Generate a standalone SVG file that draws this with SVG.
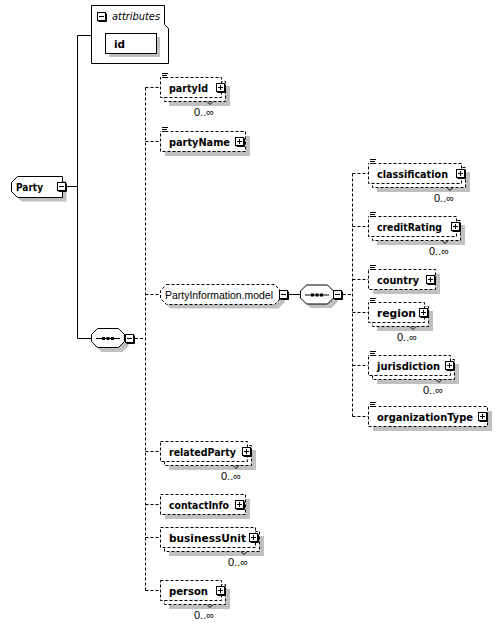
<svg xmlns="http://www.w3.org/2000/svg" width="498" height="626" viewBox="0 0 498 626">
<style>
.bg{fill:#fff}
.sh{fill:#c0c0c0}
.box{fill:#fff;stroke:#000;stroke-width:1;stroke-dasharray:3,2}
.sol{fill:#fff;stroke:#000;stroke-width:1}
.ln{fill:none;stroke:#000;stroke-width:1}
.dl{fill:none;stroke:#000;stroke-width:1;stroke-dasharray:3,2}
.lbl{font-family:"DejaVu Sans",sans-serif;font-weight:bold;font-size:10.5px;fill:#000}
.mul{font-family:"Liberation Sans",Arial,sans-serif;font-size:11px;fill:#000}
.grp{font-family:"Liberation Sans",Arial,sans-serif;font-size:10.5px;fill:#000}
.att{font-family:"DejaVu Sans",sans-serif;font-style:italic;font-size:10px;fill:#000}
</style>
<defs>
<g id="plus"><rect x="0.5" y="0.5" width="8" height="8" fill="#fff" stroke="#000"/><path d="M2,4.5H7M4.5,2V7M9.5,1.5V9.5H1.5" fill="none" stroke="#000"/></g>
<g id="minus"><rect x="0.5" y="0.5" width="8" height="8" fill="#fff" stroke="#000"/><path d="M2,4.5H7M9.5,1.5V9.5H1.5" fill="none" stroke="#000"/></g>
<g id="doc"><rect x="1" y="-5" width="8" height="6.5" fill="#fff"/><path d="M2,-4H8M2,-2H7M2,0H8" fill="none" stroke="#000"/></g>
<g id="seq"><path d="M6.5,0.5H27.5L33.5,6.5V13.5L27.5,19.5H6.5L0.5,13.5V6.5Z" class="sol"/><path d="M5,10.5H29" class="ln"/><rect x="11" y="9" width="3" height="3"/><rect x="15.5" y="9" width="3" height="3"/><rect x="20" y="9" width="3" height="3"/></g>
<path id="seqsh" d="M6.5,0.5H27.5L33.5,6.5V13.5L27.5,19.5H6.5L0.5,13.5V6.5Z"/>
</defs>

<g id="connectors">
<path class="ln" d="M77.5,35.5V338.5M77.5,35.5H91.5M67,186.5H77.5M77.5,338.5H91"/>
<path class="dl" d="M135,338.5H145.5M145.5,87.5V590.5M145.5,87.5H160.5M145.5,141.5H160.5M145.5,294.5H160.5M145.5,451.5H160.5M145.5,504.5H160.5M145.5,537.5H160.5M145.5,590.5H160.5"/>
<path class="ln" d="M288,294.5H300"/>
<path class="dl" d="M343,294.5H352.5M352.5,173.5V416.5M352.5,173.5H368.5M352.5,226.5H368.5M352.5,279.5H368.5M352.5,312.5H368.5M352.5,365.5H368.5M352.5,416.5H368.5"/>
</g>

<g id="attributes">
<path class="sol" d="M91.5,5.5H164.5V24.5L168.5,28.5V63.5H91.5Z"/>
<use href="#minus" x="97" y="12"/>
<text class="att" x="112" y="20" textLength="48" lengthAdjust="spacingAndGlyphs">attributes</text>
</g>
<g id="id">
<rect class="sh" x="109" y="37" width="51" height="20"/>
<rect class="sol" x="105.5" y="33.5" width="51" height="20"/>
<text class="lbl" x="114" y="47.5">id</text>
</g>

<g id="Party">
<path class="sh" transform="translate(4,4)" d="M17.5,176.5H62.5V197.5H17.5L11.5,191.5V182.5Z"/>
<path class="sol" d="M17.5,176.5H62.5V197.5H17.5L11.5,191.5V182.5Z"/>
<text class="lbl" x="16" y="190.5" textLength="27" lengthAdjust="spacingAndGlyphs">Party</text>
<use href="#minus" x="57" y="182"/>
</g>

<g id="sequence1">
<use href="#seqsh" x="95" y="332.5" class="sh"/>
<use href="#seq" x="91" y="328"/>
<use href="#minus" x="125" y="334"/>
</g>

<g id="partyId">
<rect class="sh" x="169" y="86" width="61" height="20"/>
<rect class="box" x="164.5" y="81.5" width="61" height="20"/>
<rect class="box" x="160.5" y="77.5" width="61" height="20"/>
<use href="#doc" x="160" y="77.5"/>
<text class="lbl" x="169" y="91.5" textLength="39" lengthAdjust="spacingAndGlyphs">partyId</text>
<use href="#plus" x="216" y="83"/>
<path class="ln" d="M207,101.5L210,104.5L213,101.5"/>
<text class="mul" x="194" y="116">0..∞</text>
</g>

<g id="partyName">
<rect class="sh" x="165" y="136" width="85" height="20"/>
<rect class="box" x="160.5" y="131.5" width="85" height="20"/>
<use href="#doc" x="160" y="131.5"/>
<text class="lbl" x="169" y="145.5" textLength="61" lengthAdjust="spacingAndGlyphs">partyName</text>
<use href="#plus" x="235" y="137"/>
</g>

<g id="PartyInformation.model">
<path class="sh" transform="translate(4,4)" d="M166.5,284.5H274.5L280.5,290.5V298.5L274.5,304.5H166.5L160.5,298.5V290.5Z"/>
<path class="box" d="M166.5,284.5H274.5L280.5,290.5V298.5L274.5,304.5H166.5L160.5,298.5V290.5Z"/>
<text class="grp" x="165" y="298.5" textLength="108" lengthAdjust="spacingAndGlyphs">PartyInformation.model</text>
<use href="#minus" x="279" y="290"/>
</g>

<g id="sequence2">
<use href="#seqsh" x="304" y="288.5" class="sh"/>
<use href="#seq" x="300" y="284.5"/>
<use href="#minus" x="333" y="290"/>
</g>

<g id="classification">
<rect class="sh" x="377" y="172" width="93" height="20"/>
<rect class="box" x="372.5" y="167.5" width="93" height="20"/>
<rect class="box" x="368.5" y="163.5" width="93" height="20"/>
<use href="#doc" x="368" y="163.5"/>
<text class="lbl" x="377" y="177.5" textLength="71" lengthAdjust="spacingAndGlyphs">classification</text>
<use href="#plus" x="456" y="169"/>
<path class="ln" d="M447,187.5L450,190.5L453,187.5"/>
<text class="mul" x="434" y="202">0..∞</text>
</g>

<g id="creditRating">
<rect class="sh" x="377" y="225" width="88" height="20"/>
<rect class="box" x="372.5" y="220.5" width="88" height="20"/>
<rect class="box" x="368.5" y="216.5" width="88" height="20"/>
<use href="#doc" x="368" y="216.5"/>
<text class="lbl" x="377" y="230.5" textLength="65" lengthAdjust="spacingAndGlyphs">creditRating</text>
<use href="#plus" x="451" y="222"/>
<path class="ln" d="M442,240.5L445,243.5L448,240.5"/>
<text class="mul" x="429" y="255">0..∞</text>
</g>

<g id="country">
<rect class="sh" x="373" y="274" width="67" height="20"/>
<rect class="box" x="368.5" y="269.5" width="67" height="20"/>
<use href="#doc" x="368" y="269.5"/>
<text class="lbl" x="377" y="283.5" textLength="42" lengthAdjust="spacingAndGlyphs">country</text>
<use href="#plus" x="426" y="275"/>
</g>

<g id="region">
<rect class="sh" x="377" y="311" width="56" height="20"/>
<rect class="box" x="372.5" y="306.5" width="56" height="20"/>
<rect class="box" x="368.5" y="302.5" width="56" height="20"/>
<use href="#doc" x="368" y="302.5"/>
<text class="lbl" x="377" y="316.5" textLength="39" lengthAdjust="spacingAndGlyphs">region</text>
<use href="#plus" x="419" y="308"/>
<path class="ln" d="M410,326.5L413,329.5L416,326.5"/>
<text class="mul" x="397" y="341">0..∞</text>
</g>

<g id="jurisdiction">
<rect class="sh" x="377" y="364" width="82" height="20"/>
<rect class="box" x="372.5" y="359.5" width="82" height="20"/>
<rect class="box" x="368.5" y="355.5" width="82" height="20"/>
<use href="#doc" x="368" y="355.5"/>
<text class="lbl" x="377" y="369.5" textLength="63" lengthAdjust="spacingAndGlyphs">jurisdiction</text>
<use href="#plus" x="445" y="361"/>
<path class="ln" d="M436,379.5L439,382.5L442,379.5"/>
<text class="mul" x="423" y="394">0..∞</text>
</g>

<g id="organizationType">
<rect class="sh" x="373" y="411" width="119" height="20"/>
<rect class="box" x="368.5" y="406.5" width="119" height="20"/>
<use href="#doc" x="368" y="406.5"/>
<text class="lbl" x="377" y="420.5" textLength="96" lengthAdjust="spacingAndGlyphs">organizationType</text>
<use href="#plus" x="478" y="412"/>
</g>

<g id="relatedParty">
<rect class="sh" x="169" y="450" width="87" height="20"/>
<rect class="box" x="164.5" y="445.5" width="87" height="20"/>
<rect class="box" x="160.5" y="441.5" width="87" height="20"/>
<text class="lbl" x="169" y="455.5" textLength="67" lengthAdjust="spacingAndGlyphs">relatedParty</text>
<use href="#plus" x="242" y="447"/>
<path class="ln" d="M233,465.5L236,468.5L239,465.5"/>
<text class="mul" x="221" y="480">0..∞</text>
</g>

<g id="contactInfo">
<rect class="sh" x="165" y="499" width="85" height="20"/>
<rect class="box" x="160.5" y="494.5" width="85" height="20"/>
<text class="lbl" x="169" y="508.5" textLength="60" lengthAdjust="spacingAndGlyphs">contactInfo</text>
<use href="#plus" x="235" y="500"/>
</g>

<g id="businessUnit">
<rect class="sh" x="169" y="536" width="95" height="20"/>
<rect class="box" x="164.5" y="531.5" width="95" height="20"/>
<rect class="box" x="160.5" y="527.5" width="95" height="20"/>
<text class="lbl" x="169" y="541.5" textLength="77" lengthAdjust="spacingAndGlyphs">businessUnit</text>
<use href="#plus" x="249" y="533"/>
<path class="ln" d="M241,551.5L244,554.5L247,551.5"/>
<text class="mul" x="228" y="566">0..∞</text>
</g>

<g id="person">
<rect class="sh" x="169" y="589" width="61" height="20"/>
<rect class="box" x="164.5" y="584.5" width="61" height="20"/>
<rect class="box" x="160.5" y="580.5" width="61" height="20"/>
<text class="lbl" x="169" y="594.5" textLength="39" lengthAdjust="spacingAndGlyphs">person</text>
<use href="#plus" x="216" y="586"/>
<path class="ln" d="M207,604.5L210,607.5L213,604.5"/>
<text class="mul" x="194" y="619">0..∞</text>
</g>
</svg>
